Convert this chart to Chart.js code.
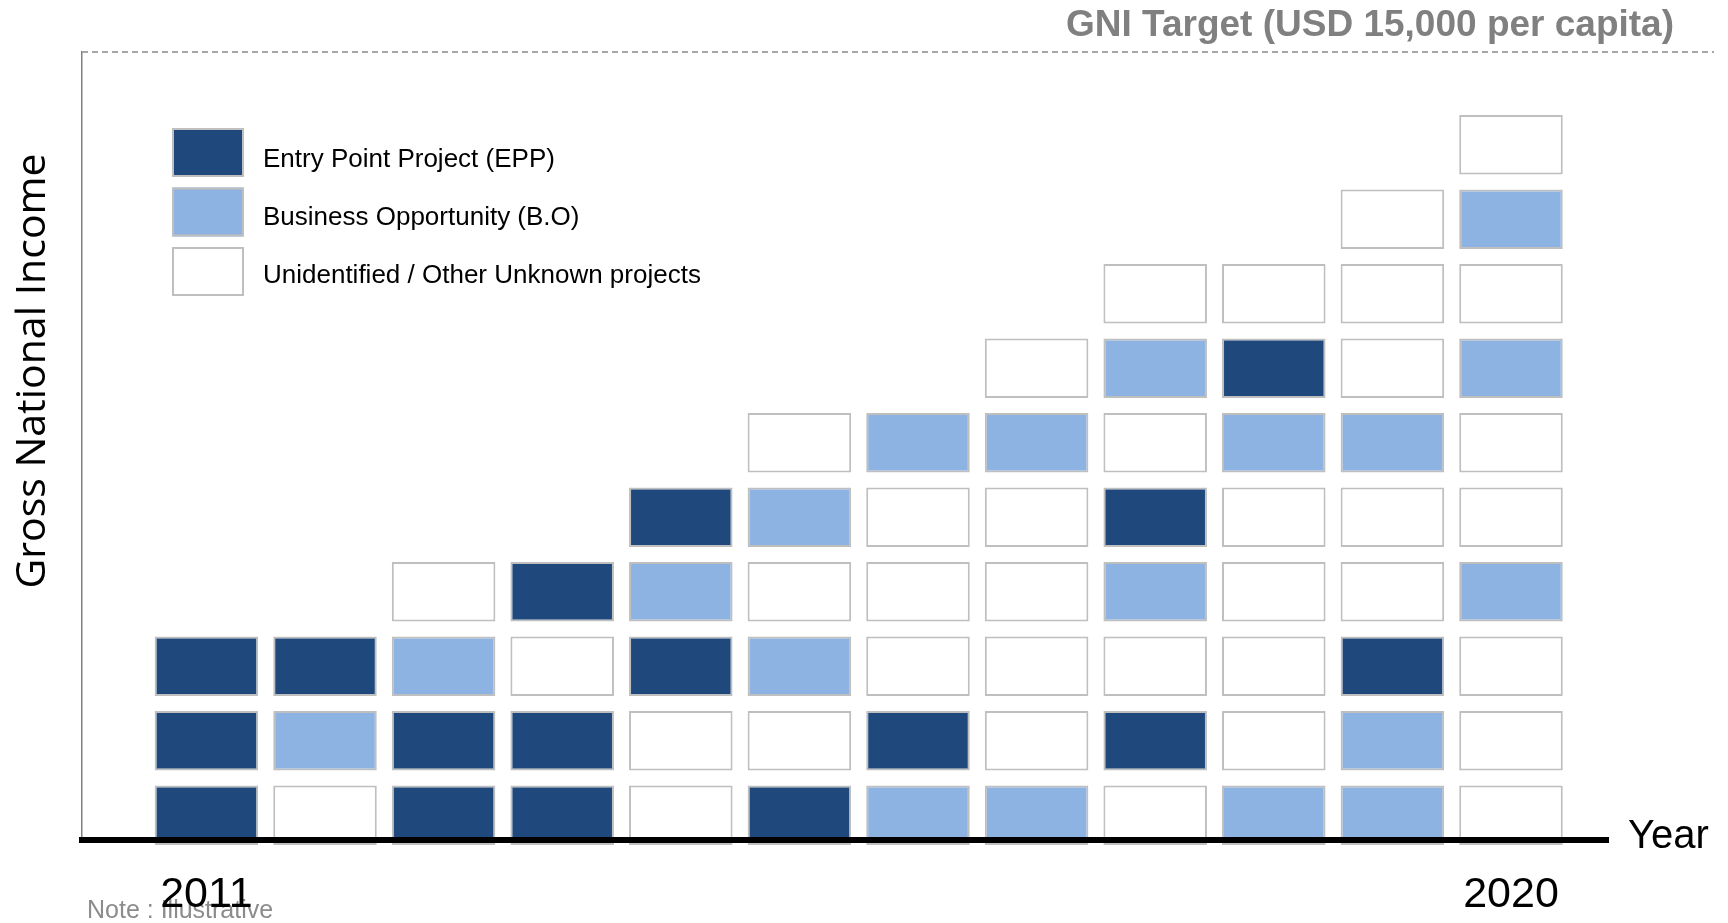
<!DOCTYPE html>
<html>
<head>
<meta charset="utf-8">
<script src="https://cdn.jsdelivr.net/npm/chart.js@4"></script>
<style>
  html, body { margin: 0; padding: 0; background: #fff; }
  #wrap { position: relative; width: 1728px; height: 923px; }
</style>
</head>
<body>
<div id="wrap"><canvas id="gniChart"></canvas></div>
<script>
// columns from 2011 to 2020, only the two ends carry a label
const columnLabels = ['2011', '', '', '', '', '', '', '', '', '', '', '2020'];

// kinds of project
const kindCodes = ['E', 'B', 'U'];
const kindNames = ['Entry Point Project (EPP)', 'Business Opportunity (B.O)', 'Unidentified / Other Unknown projects'];
const kindColors = { E: '#1F497D', B: '#8DB3E2', U: '#FFFFFF' };

// boxes in every column, bottom to top
const stacks = [
  ['E', 'E', 'E'],
  ['U', 'B', 'E'],
  ['E', 'E', 'B', 'U'],
  ['E', 'E', 'U', 'E'],
  ['U', 'U', 'E', 'B', 'E'],
  ['E', 'U', 'B', 'U', 'B', 'U'],
  ['B', 'E', 'U', 'U', 'U', 'B'],
  ['B', 'U', 'U', 'U', 'U', 'B', 'U'],
  ['U', 'E', 'U', 'B', 'E', 'U', 'B', 'U'],
  ['B', 'U', 'U', 'U', 'U', 'B', 'E', 'U'],
  ['B', 'B', 'E', 'U', 'U', 'B', 'U', 'U', 'U'],
  ['U', 'U', 'U', 'B', 'U', 'U', 'B', 'U', 'B', 'U']
];

const GAP = 0.1; // half gap between boxes, in box units

/* one dataset per level of the stack */
const levels = Math.max(...stacks.map(s => s.length));
const datasets = [];
for (let k = 0; k < levels; k++) {
  datasets.push({
    data: stacks
      .map((s, c) => s[k] ? { x: c, y: [k + GAP, k + 1 - GAP], kind: s[k] } : null)
      .filter(d => d),
    backgroundColor: c => kindColors[c.raw.kind],
    borderColor: '#BFBFBF',
    borderWidth: 2,
    borderSkipped: false,
    grouped: false,
    barPercentage: 0.873,
    categoryPercentage: 1,
    clip: false
  });
}

/* texts, legend and target line */
const decor = {
  id: 'decor',
  beforeDraw(chart) {
    const ctx = chart.ctx;
    ctx.save();
    ctx.fillStyle = '#8C8C8C';
    ctx.font = '25px "Liberation Sans", Arial, sans-serif';
    ctx.textAlign = 'left';
    ctx.textBaseline = 'alphabetic';
    ctx.fillText('Note : Illustrative', 87, 918);
    ctx.restore();
  },
  afterDraw(chart) {
    const ctx = chart.ctx;
    const area = chart.chartArea;
    ctx.save();

    // target line
    ctx.strokeStyle = '#A6A6A6';
    ctx.lineWidth = 2;
    ctx.setLineDash([6, 4]);
    ctx.beginPath();
    ctx.moveTo(area.left, area.top);
    ctx.lineTo(chart.width - 14, area.top);
    ctx.stroke();
    ctx.setLineDash([]);

    ctx.fillStyle = '#808080';
    ctx.font = 'bold 37px "Liberation Sans", Arial, sans-serif';
    ctx.textAlign = 'right';
    ctx.fillText('GNI Target (USD 15,000 per capita)', 1674, 36);

    // axis titles
    ctx.fillStyle = '#000';
    ctx.font = '40px "Liberation Sans", Arial, sans-serif';
    ctx.textAlign = 'left';
    ctx.fillText('Year', 1628, 848);

    ctx.save();
    ctx.translate(45, 371);
    ctx.rotate(-Math.PI / 2);
    ctx.font = '41px "Open Sans", sans-serif';
    ctx.textAlign = 'center';
    ctx.fillText('Gross National Income', 0, 0);
    ctx.restore();

    // legend
    kindCodes.forEach((k, i) => {
      const top = 128 + i * 59.5;
      ctx.fillStyle = kindColors[k];
      ctx.fillRect(172, top, 72, 49);
      ctx.strokeStyle = '#BFBFBF';
      ctx.lineWidth = 2;
      ctx.strokeRect(173, top + 1, 70, 47);
      ctx.fillStyle = '#000';
      ctx.font = '26px "Liberation Sans", Arial, sans-serif';
      ctx.textAlign = 'left';
      ctx.fillText(kindNames[i], 263, 167 + i * 58);
    });

    ctx.restore();
  }
};

new Chart(document.getElementById('gniChart'), {
  type: 'bar',
  data: { datasets },
  options: {
    responsive: true,
    maintainAspectRatio: false,
    animation: false,
    events: [],
    layout: { padding: { top: 52, right: 120, bottom: 0, left: 0 } },
    plugins: { legend: { display: false }, tooltip: { enabled: false } },
    scales: {
      x: {
        type: 'linear',
        offset: false,
        bounds: 'data',
        min: -1.049,
        max: 11.818,
        grid: { display: false, drawTicks: false, offset: false },
        border: { color: '#000', width: 6, z: 1 },
        afterBuildTicks: s => {
          s.ticks = columnLabels.map((l, i) => ({ value: i })).filter(t => columnLabels[t.value]);
        },
        afterFit: s => { s.height = 83; },
        ticks: {
          z: 1,
          autoSkip: false,
          maxRotation: 0,
          padding: 34,
          color: '#000',
          font: { family: '"Liberation Sans", Arial, sans-serif', size: 43, lineHeight: 1 },
          callback: v => columnLabels[v]
        }
      },
      y: {
        min: 0.167,
        max: 10.744,
        grid: { display: false, drawTicks: false },
        border: { color: '#808080', width: 1.5 },
        ticks: { display: false },
        afterFit: s => { s.width = 82; }
      }
    }
  },
  plugins: [decor]
});
</script>
</body>
</html>
